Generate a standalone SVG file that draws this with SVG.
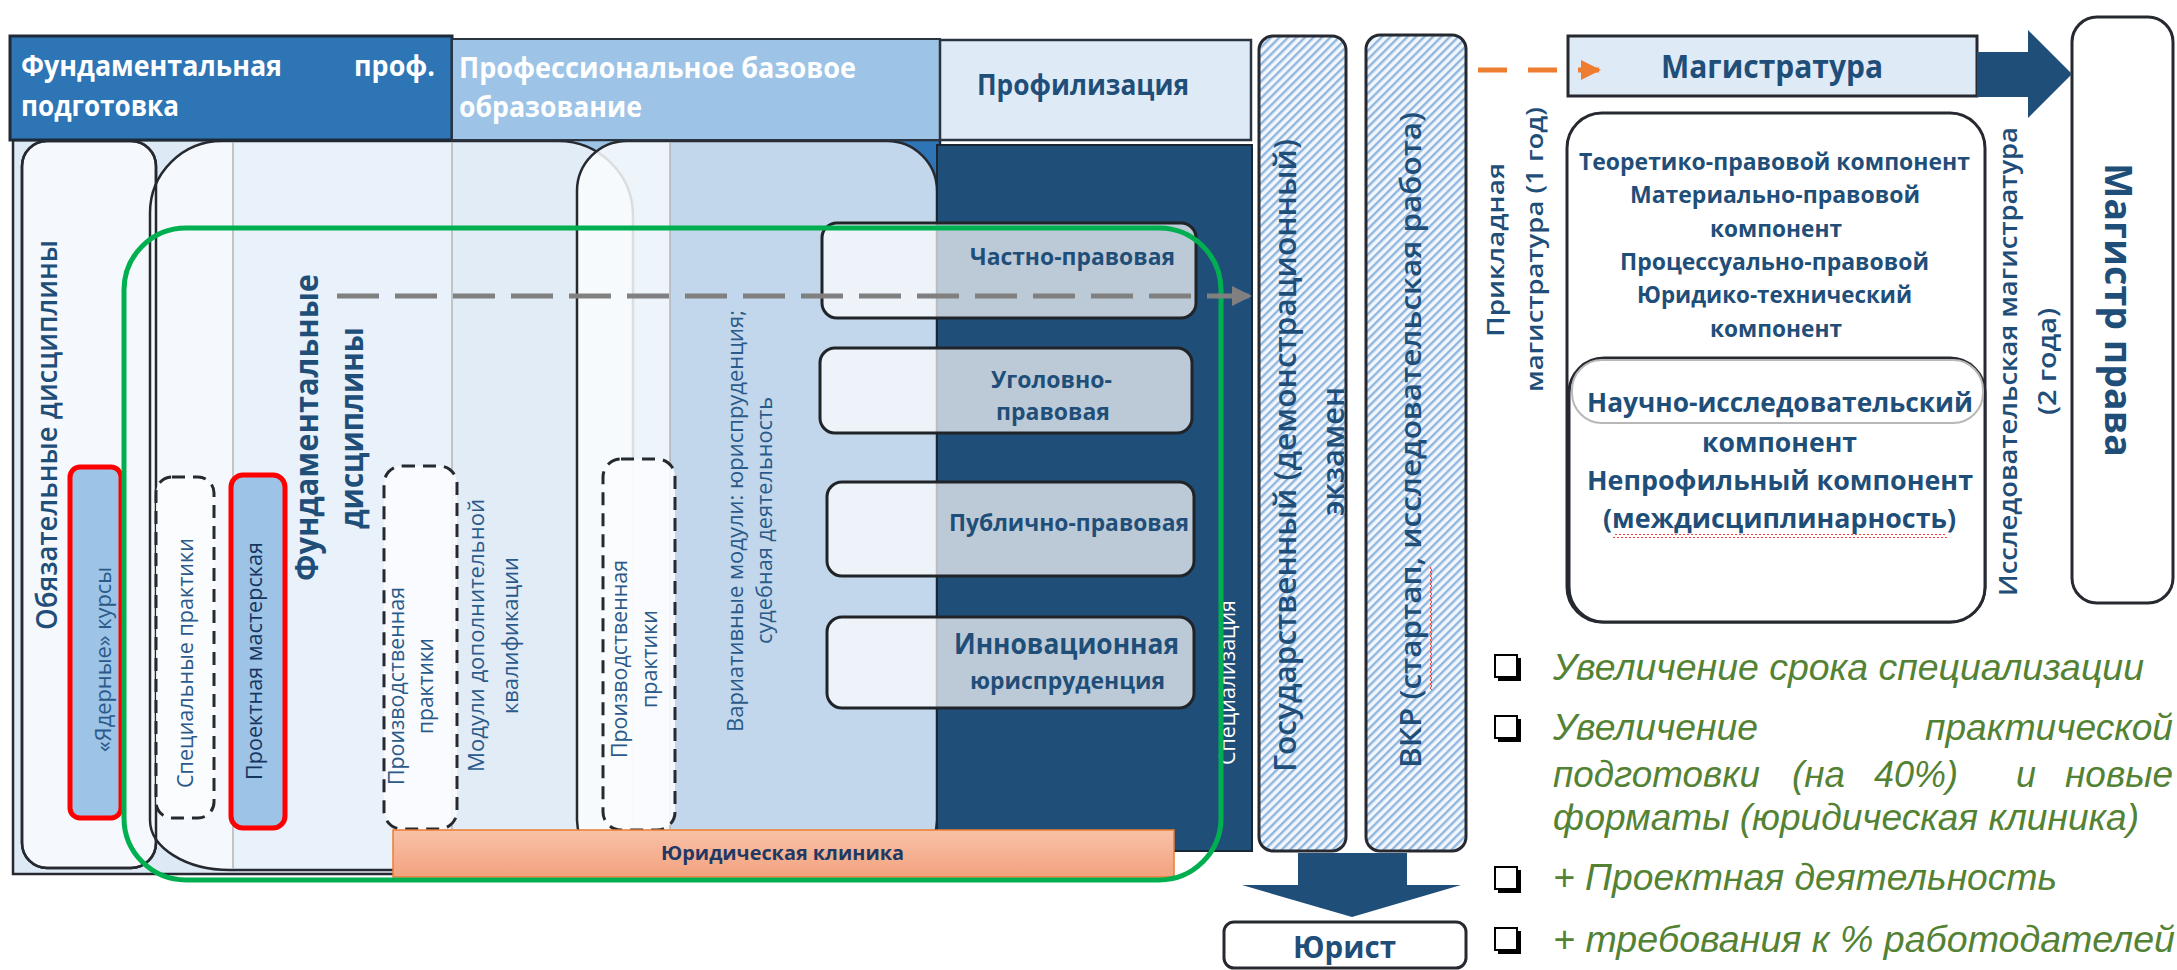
<svg xmlns="http://www.w3.org/2000/svg" width="2177" height="970" viewBox="0 0 2177 970">
<defs>
<style>
.b{font-family:"Open Sans","Noto Sans","DejaVu Sans",sans-serif;font-weight:700;fill:#1f4e79}
.sb{font-family:"Open Sans","Noto Sans","DejaVu Sans",sans-serif;font-weight:600;fill:#1f4e79}
.r{font-family:"Open Sans","Noto Sans","DejaVu Sans",sans-serif;font-weight:400;fill:#2a5a8a;font-size:22px}
.w{fill:#ffffff}
.g{font-family:"Liberation Sans",Arial,sans-serif;font-style:italic;fill:#548235;font-size:36px}
.frame{fill:none;stroke:#262a30;stroke-width:2.5}
.dash{fill:#fbfcfe;fill-opacity:.9;stroke:#262a30;stroke-width:3;stroke-dasharray:13 8}
.red{fill:#9dc3e6;stroke:#ff0000;stroke-width:5}
.prof{fill:#ffffff;fill-opacity:.7;stroke:#202428;stroke-width:3}
.hatch{fill:url(#hatch);stroke:#262a30;stroke-width:3}
.plain{fill:#ffffff;stroke:#262a30;stroke-width:3}
.grid{stroke:#b4b4b4;stroke-width:1.5}
.wave{fill:url(#wave)}
</style>
<pattern id="hatch" width="6" height="6" patternUnits="userSpaceOnUse" patternTransform="rotate(45)">
<rect width="6" height="6" fill="#f3f7fc"/>
<rect width="2.4" height="6" fill="#8fb6de"/>
</pattern>
<pattern id="wave" width="4" height="4" patternUnits="userSpaceOnUse">
<polyline points="0,3 2,1 4,3" fill="none" stroke="#ff3b3b" stroke-width="1"/>
</pattern>
<linearGradient id="g2" gradientUnits="userSpaceOnUse" x1="150" y1="0" x2="633" y2="0">
<stop offset="0.172" stop-color="#f5f8fc"/>
<stop offset="0.172" stop-color="#e9f1fa"/>
<stop offset="0.625" stop-color="#e9f1fa"/>
<stop offset="0.625" stop-color="#e2ecf7"/>
</linearGradient>
<linearGradient id="g3" gradientUnits="userSpaceOnUse" x1="577" y1="0" x2="937" y2="0">
<stop offset="0.258" stop-color="#fbfdfe" stop-opacity="0.85"/>
<stop offset="0.258" stop-color="#c2d7eb"/>
</linearGradient>
<linearGradient id="clin" x1="0" y1="0" x2="0" y2="1">
<stop offset="0" stop-color="#f8c1a8"/>
<stop offset="1" stop-color="#f2a37e"/>
</linearGradient>
<marker id="arrGray" viewBox="0 0 10 10" refX="9" refY="5" markerWidth="20" markerHeight="20" markerUnits="userSpaceOnUse" orient="auto"><path d="M0,0 L10,5 L0,10 z" fill="#808080"/></marker>
<marker id="arrOrange" viewBox="0 0 10 10" refX="9" refY="5" markerWidth="20" markerHeight="20" markerUnits="userSpaceOnUse" orient="auto"><path d="M0,0 L10,5 L0,10 z" fill="#ed7d31"/></marker>
</defs>

<g id="body-bg">
<rect x="13" y="141" width="439" height="733" fill="#dde9f5"/>
<rect x="452" y="141" width="218" height="733" fill="#9dc3e6"/>
<rect x="670" y="141" width="270" height="733" fill="#2e75b6"/>
</g>

<g id="node-obyazatelnye">
<rect x="22" y="141" width="134" height="727" rx="25" fill="#f5f8fc" stroke="#262a30" stroke-width="2.5"/>
</g>

<g id="node-fundamentalnye">
<path d="M222 141 H558 A75 75 0 0 1 633 216 V830 A40 40 0 0 1 593 870 H230 A80 50 0 0 1 150 820 V213 A72 72 0 0 1 222 141 Z" fill="url(#g2)" stroke="#262a30" stroke-width="2.5"/>
<rect x="22" y="141" width="134" height="727" rx="25" fill="none" stroke="#262a30" stroke-width="2.5"/>
</g>

<g id="node-variativnye">
<path d="M627 141 H887 A50 50 0 0 1 937 191 V820 A40 40 0 0 1 897 860 H617 A40 40 0 0 1 577 820 V191 A50 50 0 0 1 627 141 Z" fill="url(#g3)" stroke="#262a30" stroke-width="2.5"/>
</g>

<g id="grid-lines">
<line class="grid" x1="233" y1="142" x2="233" y2="869"/>
<line class="grid" x1="452" y1="142" x2="452" y2="830"/>
<line class="grid" x1="670" y1="142" x2="670" y2="830"/>
</g>

<g id="node-frame">
<rect class="frame" x="13" y="140" width="927" height="734"/>
</g>

<g id="node-header-fund">
<rect x="10" y="36" width="442" height="104" fill="#2e75b6" stroke="#1e2a38" stroke-width="3"/>
<text class="b w" x="21" y="76" font-size="28" textLength="261" lengthAdjust="spacingAndGlyphs">Фундаментальная</text>
<text class="b w" x="354" y="76" font-size="28" textLength="81" lengthAdjust="spacingAndGlyphs">проф.</text>
<text class="b w" x="21" y="116" font-size="28" textLength="158" lengthAdjust="spacingAndGlyphs">подготовка</text>
</g>
<g id="node-header-prof">
<rect x="452" y="39" width="488" height="101" fill="#9dc3e6" stroke="#2a3440" stroke-width="2"/>
<text class="b w" x="459" y="78" font-size="28" textLength="397" lengthAdjust="spacingAndGlyphs">Профессиональное базовое</text>
<text class="b w" x="459" y="117" font-size="28" textLength="183" lengthAdjust="spacingAndGlyphs">образование</text>
</g>
<g id="node-header-profil">
<rect x="940" y="40" width="311" height="100" fill="#deeaf6" stroke="#2a3440" stroke-width="2.5"/>
<text class="b" x="977" y="95" font-size="28" textLength="212" lengthAdjust="spacingAndGlyphs">Профилизация</text>
</g>

<g id="node-obyaz-text">
<text class="sb" font-size="29" transform="translate(57,435) rotate(-90)" x="-195" textLength="390" lengthAdjust="spacingAndGlyphs">Обязательные дисциплины</text>
</g>

<g id="node-yadernye">
<rect class="red" x="70" y="467" width="51" height="351" rx="10"/>
<text class="r" transform="translate(111,660) rotate(-90)" x="-92" textLength="185" lengthAdjust="spacingAndGlyphs">«Ядерные» курсы</text>
</g>

<g id="node-spec-praktiki">
<rect class="dash" x="156" y="477" width="58" height="341" rx="16"/>
<text class="r" transform="translate(193,663) rotate(-90)" x="-125" textLength="250" lengthAdjust="spacingAndGlyphs">Специальные практики</text>
</g>

<g id="node-proekt">
<rect class="red" x="231" y="475" width="54" height="353" rx="12"/>
<text class="r" style="fill:#17365f" transform="translate(262,661) rotate(-90)" x="-119" textLength="238" lengthAdjust="spacingAndGlyphs">Проектная мастерская</text>
</g>

<g id="node-fund-text">
<text class="b" font-size="33" transform="translate(318,428) rotate(-90)" x="-153" textLength="307" lengthAdjust="spacingAndGlyphs">Фундаментальные</text>
<text class="b" font-size="33" transform="translate(318,428) rotate(-90)" x="-101" y="45" textLength="202" lengthAdjust="spacingAndGlyphs">дисциплины</text>
</g>

<g id="node-proizv1">
<rect class="dash" x="384" y="466" width="73" height="363" rx="18"/>
<text class="r" transform="translate(404,686) rotate(-90)" x="-99" textLength="198" lengthAdjust="spacingAndGlyphs">Производственная</text>
<text class="r" transform="translate(404,686) rotate(-90)" x="-48" y="29" textLength="96" lengthAdjust="spacingAndGlyphs">практики</text>
</g>

<g id="node-moduli">
<text class="r" transform="translate(484,636) rotate(-90)" x="-136" textLength="273" lengthAdjust="spacingAndGlyphs">Модули дополнительной</text>
<text class="r" transform="translate(484,636) rotate(-90)" x="-78" y="34" textLength="157" lengthAdjust="spacingAndGlyphs">квалификации</text>
</g>

<g id="node-proizv2">
<rect class="dash" x="603" y="459" width="72" height="371" rx="18"/>
<text class="r" transform="translate(627,659) rotate(-90)" x="-99" textLength="198" lengthAdjust="spacingAndGlyphs">Производственная</text>
<text class="r" transform="translate(627,659) rotate(-90)" x="-49" y="30" textLength="98" lengthAdjust="spacingAndGlyphs">практики</text>
</g>

<g id="node-variativ-text">
<text class="r" transform="translate(743,521) rotate(-90)" x="-211" textLength="422" lengthAdjust="spacingAndGlyphs">Вариативные модули: юриспруденция;</text>
<text class="r" transform="translate(743,521) rotate(-90)" x="-123" y="29" textLength="247" lengthAdjust="spacingAndGlyphs">судебная деятельность</text>
</g>

<g id="node-specializacia">
<rect x="937" y="145" width="315" height="706" fill="#1f4e79" stroke="#1a2633" stroke-width="2"/>
<text class="r w" transform="translate(1235,683) rotate(-90)" x="-82" textLength="165" lengthAdjust="spacingAndGlyphs">Специализация</text>
</g>

<g id="node-chastno">
<rect class="prof" x="822" y="223" width="374" height="95" rx="15"/>
<text class="b" x="970" y="265" font-size="24" textLength="205" lengthAdjust="spacingAndGlyphs">Частно-правовая</text>
</g>
<g id="node-ugolovno">
<rect class="prof" x="820" y="348" width="372" height="85" rx="15"/>
<text class="b" x="991" y="388" font-size="24" textLength="121" lengthAdjust="spacingAndGlyphs">Уголовно-</text>
<text class="b" x="996" y="420" font-size="24" textLength="114" lengthAdjust="spacingAndGlyphs">правовая</text>
</g>
<g id="node-publichno">
<rect class="prof" x="827" y="482" width="367" height="94" rx="15"/>
<text class="b" x="949" y="531" font-size="24" textLength="240" lengthAdjust="spacingAndGlyphs">Публично-правовая</text>
</g>
<g id="node-innovac">
<rect class="prof" x="827" y="617" width="367" height="91" rx="15"/>
<text class="b" x="954" y="654" font-size="28" textLength="225" lengthAdjust="spacingAndGlyphs">Инновационная</text>
<text class="b" x="970" y="689" font-size="24" textLength="195" lengthAdjust="spacingAndGlyphs">юриспруденция</text>
</g>

<g id="node-klinika">
<rect x="393" y="830" width="781" height="47" fill="url(#clin)" stroke="#ed7d31" stroke-width="1.5"/>
<text class="b" style="fill:#1f3864" x="661" y="860" font-size="20" textLength="243" lengthAdjust="spacingAndGlyphs">Юридическая клиника</text>
</g>

<g id="node-green-frame">
<rect x="124" y="228" width="1097" height="652" rx="62" fill="none" stroke="#00b050" stroke-width="5"/>
</g>

<g id="node-gos-ekzamen">
<rect class="hatch" x="1259" y="36" width="87" height="815" rx="14"/>
<text class="sb" font-size="30" transform="translate(1296,456) rotate(-90)" x="-316" textLength="633" lengthAdjust="spacingAndGlyphs">Государственный (демонстрационный)</text>
<text class="sb" font-size="30" transform="translate(1296,456) rotate(-90)" x="-60" y="48" textLength="129" lengthAdjust="spacingAndGlyphs">экзамен</text>
</g>

<g id="node-vkr">
<rect class="hatch" x="1366" y="35" width="100" height="816" rx="14"/>
<text class="sb" font-size="29" transform="translate(1421,440) rotate(-90)" x="-328" textLength="656" lengthAdjust="spacingAndGlyphs">ВКР (стартап, исследовательская работа)</text>
<g transform="translate(1429,690) rotate(-90)"><rect class="wave" x="0" y="0" width="123" height="4"/></g>
</g>

<g id="node-yurist">
<rect class="plain" x="1224" y="922" width="242" height="46" rx="10"/>
<text class="b" x="1293" y="958" font-size="30" textLength="103" lengthAdjust="spacingAndGlyphs">Юрист</text>
</g>

<g id="node-prikladnaya">
<text class="sb" font-size="24" transform="translate(1504,250) rotate(-90)" x="-87" textLength="174" lengthAdjust="spacingAndGlyphs">Прикладная</text>
<text class="sb" font-size="24" transform="translate(1504,250) rotate(-90)" x="-142" y="39" textLength="285" lengthAdjust="spacingAndGlyphs">магистратура (1 год)</text>
</g>

<g id="node-magistratura">
<rect x="1568" y="36" width="409" height="60" fill="#deeaf6" stroke="#262a30" stroke-width="3"/>
<text class="b" x="1661" y="78" font-size="32" textLength="222" lengthAdjust="spacingAndGlyphs">Магистратура</text>
</g>

<g id="node-komponenty">
<rect class="plain" x="1567" y="113" width="418" height="509" rx="35"/>
<text class="b" x="1579" y="170" font-size="23" textLength="391" lengthAdjust="spacingAndGlyphs">Теоретико-правовой компонент</text>
<text class="b" x="1630" y="203" font-size="23" textLength="290" lengthAdjust="spacingAndGlyphs">Материально-правовой</text>
<text class="b" x="1710" y="237" font-size="23" textLength="132" lengthAdjust="spacingAndGlyphs">компонент</text>
<text class="b" x="1620" y="270" font-size="23" textLength="309" lengthAdjust="spacingAndGlyphs">Процессуально-правовой</text>
<text class="b" x="1637" y="303" font-size="23" textLength="275" lengthAdjust="spacingAndGlyphs">Юридико-технический</text>
<text class="b" x="1710" y="337" font-size="23" textLength="132" lengthAdjust="spacingAndGlyphs">компонент</text>
</g>

<g id="node-nauchno">
<rect x="1569" y="358" width="416" height="264" rx="35" fill="#ffffff" stroke="#262a30" stroke-width="3"/>
<rect x="1572" y="360" width="411" height="63" rx="30" fill="none" stroke="#b8b8b8" stroke-width="2"/>
<text class="b" x="1587" y="412" font-size="27" textLength="386" lengthAdjust="spacingAndGlyphs">Научно-исследовательский</text>
<text class="b" x="1702" y="452" font-size="27" textLength="155" lengthAdjust="spacingAndGlyphs">компонент</text>
<text class="b" x="1587" y="490" font-size="27" textLength="386" lengthAdjust="spacingAndGlyphs">Непрофильный компонент</text>
<text class="b" x="1603" y="528" font-size="27" textLength="353" lengthAdjust="spacingAndGlyphs">(междисциплинарность)</text>
<rect class="wave" x="1613" y="534" width="334" height="4"/>
</g>

<g id="node-issled">
<text class="sb" font-size="25" transform="translate(2017,362) rotate(-90)" x="-234" textLength="469" lengthAdjust="spacingAndGlyphs">Исследовательская магистратура</text>
<text class="sb" font-size="25" transform="translate(2017,362) rotate(-90)" x="-53" y="39" textLength="107" lengthAdjust="spacingAndGlyphs">(2 года)</text>
</g>

<g id="node-magistr-prava">
<rect class="plain" x="2072" y="17" width="101" height="586" rx="25"/>
<text class="b" font-size="38" transform="translate(2105,310) rotate(90)" x="-147" textLength="294" lengthAdjust="spacingAndGlyphs">Магистр права</text>
</g>

<g id="node-bullets">
<rect x="1498" y="658" width="23" height="23" fill="#000"/><rect x="1495" y="655" width="22" height="22" fill="#fff" stroke="#000" stroke-width="2"/>
<rect x="1498" y="719" width="23" height="23" fill="#000"/><rect x="1495" y="716" width="22" height="22" fill="#fff" stroke="#000" stroke-width="2"/>
<rect x="1498" y="870" width="23" height="23" fill="#000"/><rect x="1495" y="867" width="22" height="22" fill="#fff" stroke="#000" stroke-width="2"/>
<rect x="1498" y="931" width="23" height="23" fill="#000"/><rect x="1495" y="928" width="22" height="22" fill="#fff" stroke="#000" stroke-width="2"/>
<text class="g" x="1553" y="680" textLength="591" lengthAdjust="spacingAndGlyphs">Увеличение срока специализации</text>
<text class="g" x="1553" y="740" textLength="205" lengthAdjust="spacingAndGlyphs">Увеличение</text>
<text class="g" x="1925" y="740" textLength="248" lengthAdjust="spacingAndGlyphs">практической</text>
<text class="g" x="1553" y="787" textLength="207" lengthAdjust="spacingAndGlyphs">подготовки</text>
<text class="g" x="1792" y="787" textLength="53" lengthAdjust="spacingAndGlyphs">(на</text>
<text class="g" x="1874" y="787" textLength="84" lengthAdjust="spacingAndGlyphs">40%)</text>
<text class="g" x="2016" y="787" textLength="20" lengthAdjust="spacingAndGlyphs">и</text>
<text class="g" x="2065" y="787" textLength="108" lengthAdjust="spacingAndGlyphs">новые</text>
<text class="g" x="1553" y="830" textLength="586" lengthAdjust="spacingAndGlyphs">форматы (юридическая клиника)</text>
<text class="g" x="1553" y="890" textLength="504" lengthAdjust="spacingAndGlyphs">+ Проектная деятельность</text>
<text class="g" x="1553" y="952" textLength="622" lengthAdjust="spacingAndGlyphs">+ требования к % работодателей</text>
</g>

<g id="connectors">
<line x1="337" y1="296" x2="1250" y2="296" stroke="#808080" stroke-width="5" stroke-dasharray="42 16" marker-end="url(#arrGray)"/>
<line x1="1478" y1="70" x2="1599" y2="70" stroke="#ed7d31" stroke-width="5" stroke-dasharray="29 21" marker-end="url(#arrOrange)"/>
<polygon points="1977,52 2028,52 2028,30 2072,74 2028,118 2028,97 1977,97" fill="#1f4e79"/>
<polygon points="1298,853 1407,853 1407,885 1461,885 1352,917 1242,885 1298,885" fill="#1f4e79"/>
</g>
</svg>
